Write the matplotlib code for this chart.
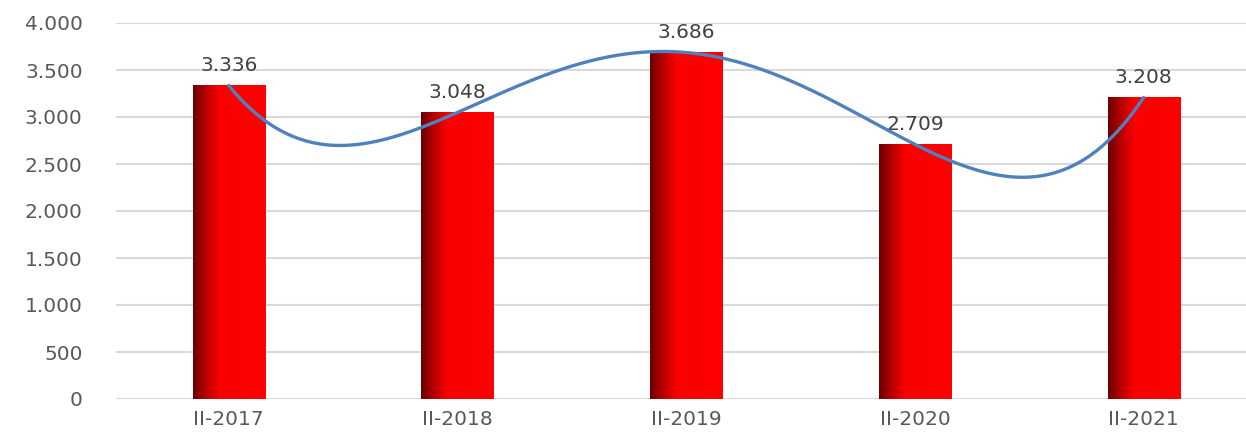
import numpy as np
import matplotlib
matplotlib.use("Agg")
import matplotlib.pyplot as plt
from matplotlib.colors import LinearSegmentedColormap
from matplotlib.ticker import FuncFormatter

categories = ["II-2017", "II-2018", "II-2019", "II-2020", "II-2021"]
values = [3336, 3048, 3686, 2709, 3208]
y_ticks = [0, 500, 1000, 1500, 2000, 2500, 3000, 3500, 4000]

def fmt(v):
    return f"{int(round(v)):,}".replace(",", ".")

plt.rcParams['font.family'] = ['DejaVu Sans']

fig = plt.figure(figsize=(12.46, 4.33), dpi=100)
ax = fig.add_axes([116/1246, 34/433, 1142/1246, 376/433])

x = np.arange(len(categories))
width = 0.315
cmap = LinearSegmentedColormap.from_list(
    "grad", [(0.0, "#6a0000"), (0.14, "#a80000"), (0.36, "#fa0000"), (1.0, "#ff0000")])
grad = np.linspace(0, 1, 256).reshape(1, -1)
for xi, v in zip(x, values):
    ax.imshow(grad, cmap=cmap, aspect="auto", extent=(xi - width/2, xi + width/2, 0, v),
              zorder=2, interpolation="bilinear")
    ax.text(xi, v + 110, fmt(v), ha="center", va="bottom", fontsize=14.5, color="#404040", zorder=3)

# polynomial trendline (order 4) derived from the data
coef = np.polyfit(x, values, 4)
xs = np.linspace(x[0], x[-1], 400)
ax.plot(xs, np.polyval(coef, xs), color="#4f81bd", lw=2.4, zorder=4, solid_capstyle="round")

ax.set_xlim(-0.493, 4.5)
ax.set_ylim(0, 4000)
ax.set_yticks(y_ticks)
ax.yaxis.set_major_formatter(FuncFormatter(lambda v, p: fmt(v)))
ax.set_xticks(x)
ax.set_xticklabels(categories)
ax.tick_params(axis="both", length=0, labelsize=14.5, colors="#595959")
ax.tick_params(axis="y", pad=24)
ax.tick_params(axis="x", pad=8)
ax.grid(axis="y", color="#d9d9d9", lw=1.5, zorder=0)
ax.set_axisbelow(True)
for s in ax.spines.values():
    s.set_visible(False)

fig.savefig("out.png", dpi=100)
